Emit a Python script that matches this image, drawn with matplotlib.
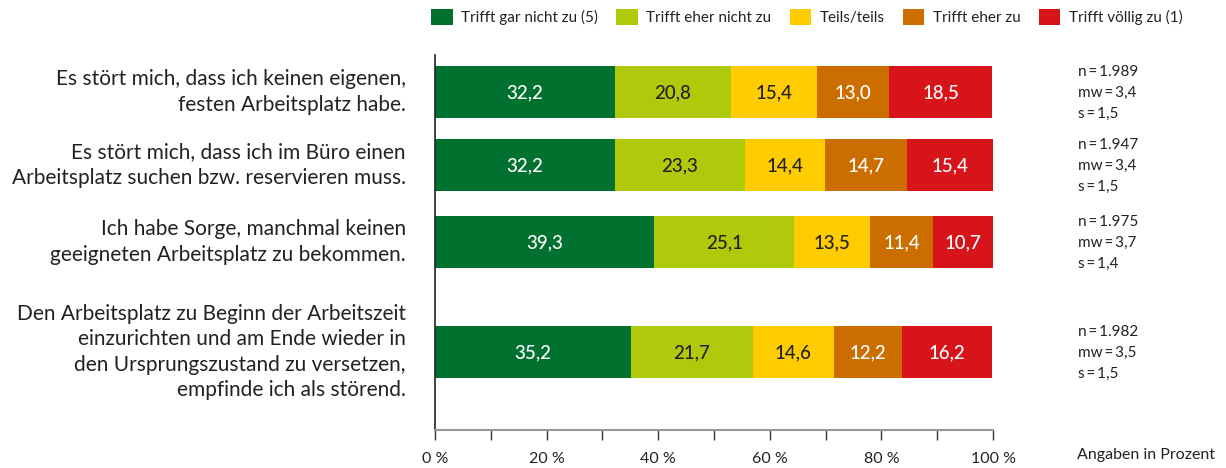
import matplotlib
matplotlib.use("Agg")
import matplotlib.pyplot as plt
from matplotlib.patches import Patch

plt.rcParams['font.family'] = ['Lato', 'DejaVu Sans']

categories = [
    "Es stört mich, dass ich keinen eigenen,\nfesten Arbeitsplatz habe.",
    "Es stört mich, dass ich im Büro einen\nArbeitsplatz suchen bzw. reservieren muss.",
    "Ich habe Sorge, manchmal keinen\ngeeigneten Arbeitsplatz zu bekommen.",
    "Den Arbeitsplatz zu Beginn der Arbeitszeit\neinzurichten und am Ende wieder in\nden Ursprungszustand zu versetzen,\nempfinde ich als störend.",
]
series_names = ["Trifft gar nicht zu (5)", "Trifft eher nicht zu", "Teils/teils",
                "Trifft eher zu", "Trifft völlig zu (1)"]
values = [
    [32.2, 20.8, 15.4, 13.0, 18.5],
    [32.2, 23.3, 14.4, 14.7, 15.4],
    [39.3, 25.1, 13.5, 11.4, 10.7],
    [35.2, 21.7, 14.6, 12.2, 16.2],
]
stats = [
    "n\u2009=\u20091.989\nmw\u2009=\u20093,4\ns\u2009=\u20091,5",
    "n\u2009=\u20091.947\nmw\u2009=\u20093,4\ns\u2009=\u20091,5",
    "n\u2009=\u20091.975\nmw\u2009=\u20093,7\ns\u2009=\u20091,4",
    "n\u2009=\u20091.982\nmw\u2009=\u20093,5\ns\u2009=\u20091,5",
]
xticks = [0, 20, 40, 60, 80, 100]
xticklabels = ["0 %", "20 %", "40 %", "60 %", "80 %", "100 %"]

colors = ["#00712F", "#AFCA0B", "#FFCC00", "#CC6D00", "#D7141A"]
text_colors = ["white", "#222222", "#222222", "white", "white"]

# layout: bar centres (pixel-like units from top)
ypos = [92, 165, 242, 352]
bar_h = 52

W, H = 1226, 468
fig = plt.figure(figsize=(W / 100, H / 100), dpi=100)
ax_l, ax_r, ax_t, ax_b = 435, 993, 55, 430
ax = fig.add_axes([ax_l / W, 1 - ax_b / H, (ax_r - ax_l) / W, (ax_b - ax_t) / H])
ax.set_xlim(0, 100)
ax.set_ylim(ax_b - ax_t, 0)

ys = [y - ax_t for y in ypos]
for i, row in enumerate(values):
    left = 0
    for j, v in enumerate(row):
        ax.barh(ys[i], v, left=left, height=bar_h, color=colors[j], edgecolor='none')
        ax.text(left + v / 2, ys[i] + 1, f"{v:.1f}".replace(".", ","), ha='center', va='center',
                color=text_colors[j], fontsize=13.5, fontweight='medium')
        left += v
    ax.text(-5.2, ys[i], categories[i], ha='right', va='center', fontsize=15,
            color='#222222', linespacing=1.33)
    ax.text(115.3, ys[i] + 1, stats[i], ha='left', va='center', fontsize=11,
            color='#222222', linespacing=1.62)

ax.set_yticks([])
ax.set_xticks(range(0, 101, 10))
ax.set_xticklabels([xticklabels[xticks.index(t)] if t in xticks else "" for t in range(0, 101, 10)])
ax.tick_params(axis='x', length=7, width=1, color='#333333', labelsize=11.5,
               labelcolor='#222222', pad=9)
for s in ['top', 'right']:
    ax.spines[s].set_visible(False)
ax.spines['left'].set_color('#222222')
ax.spines['left'].set_linewidth(1.2)
ax.spines['bottom'].set_color('#999999')
ax.spines['bottom'].set_linewidth(1.5)

ax.text(115.1, ax_b - ax_t + 25, "Angaben in Prozent", ha='left', va='center',
        fontsize=11.5, color='#222222')

handles = [Patch(facecolor=c, edgecolor='none') for c in colors]
fig.legend(handles, series_names, loc='center right', bbox_to_anchor=(1196 / W, 1 - 17 / H),
           ncol=5, frameon=False, fontsize=11, handlelength=1.4, handleheight=1.2,
           columnspacing=1.2, handletextpad=0.55, labelcolor='#222222')

fig.savefig("out.png", dpi=100)
